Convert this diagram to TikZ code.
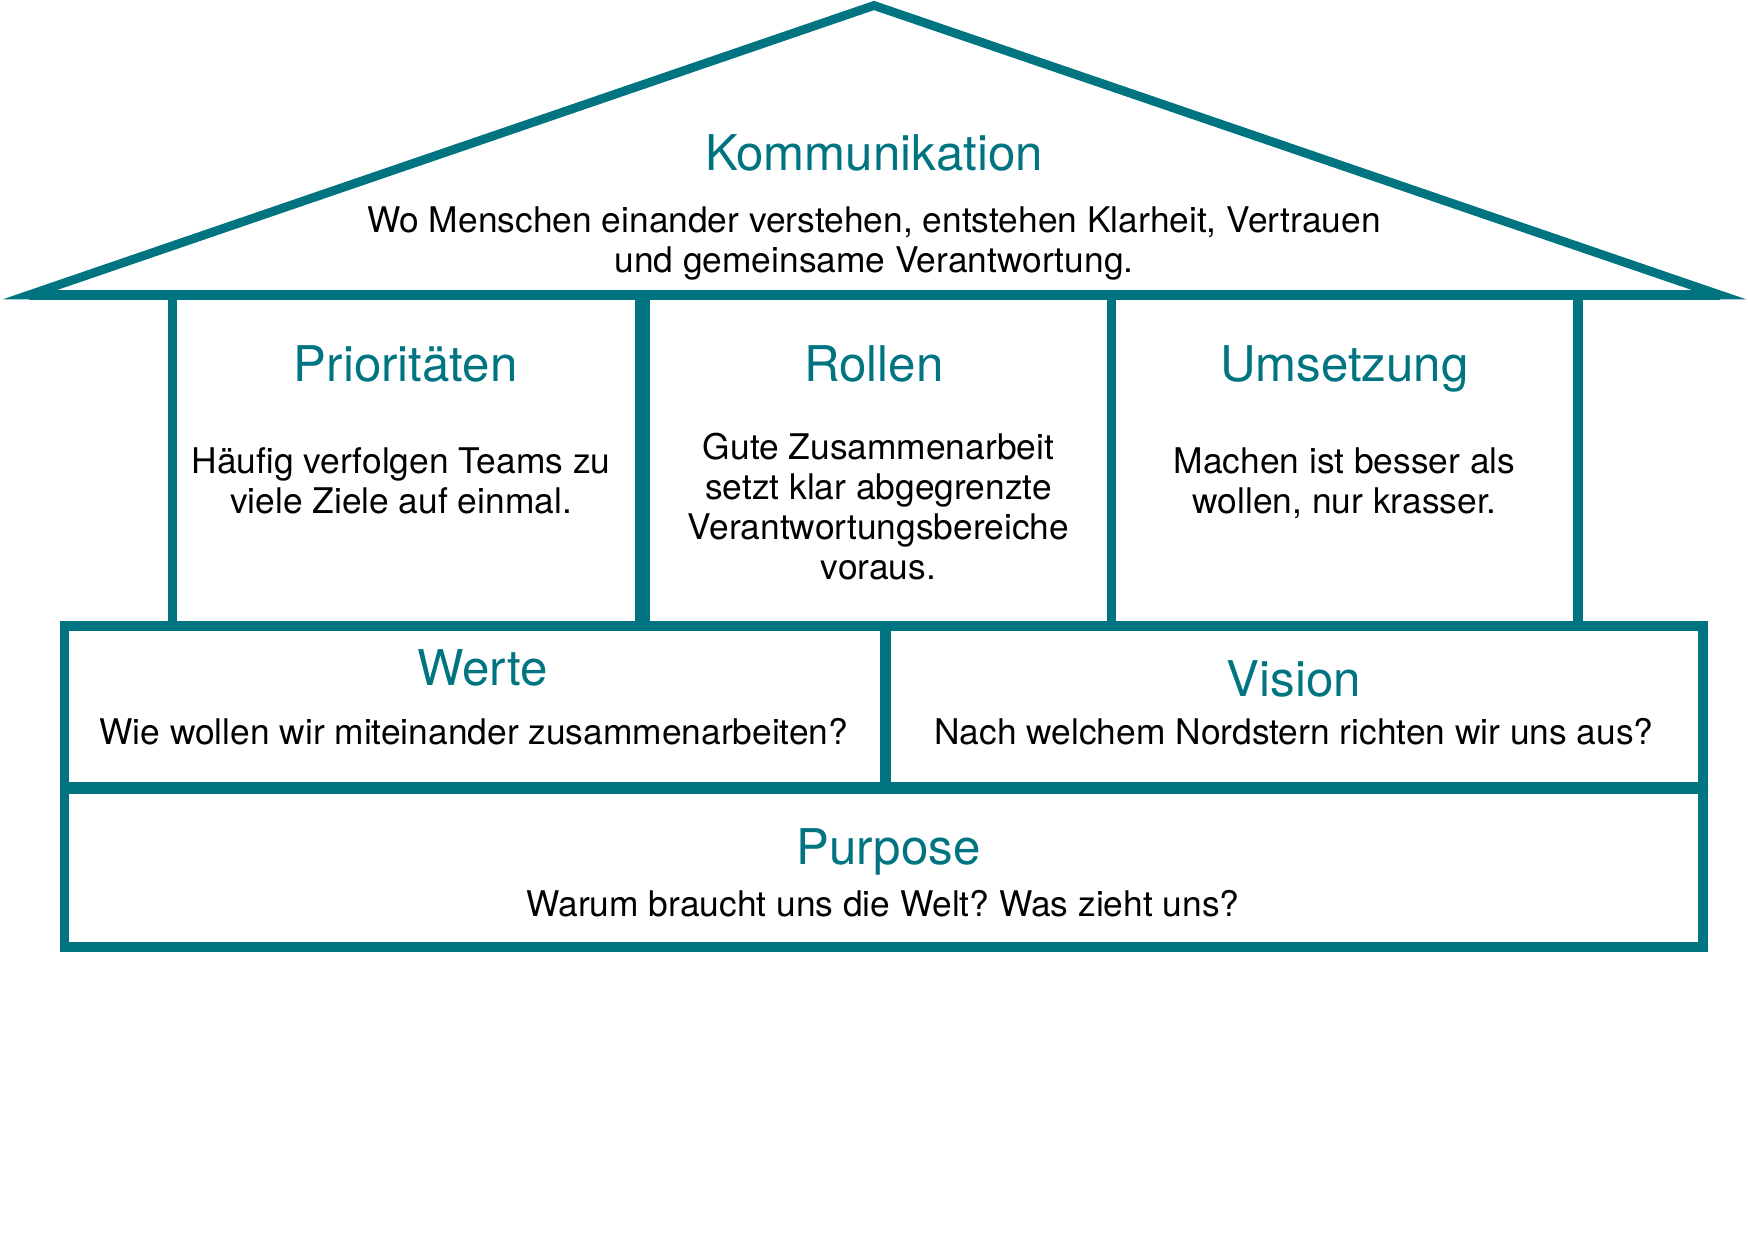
\documentclass[tikz,border=0pt]{standalone}
\usepackage{fontspec}
\setmainfont{TeX Gyre Heros}
\usepackage{tikz}
\definecolor{houseteal}{RGB}{0,116,128}
\frenchspacing

\begin{document}
\begin{tikzpicture}[
    x=0.01cm, y=-0.01cm,
    wall/.style={draw=houseteal, line width=0.095cm},
    title/.style={inner sep=0pt, anchor=base, text=houseteal, font=\fontsize{14}{16}\selectfont},
    body/.style={inner sep=0pt, anchor=base, align=center, font=\fontsize{10.05}{11.4}\selectfont}
    ]
    \useasboundingbox (0,0) rectangle (1748,1240);
    
    % roof
    \coordinate (eaveL) at (29,295);
    \coordinate (ridge) at (874,5.5);
    \coordinate (eaveR) at (1720,295);
    \draw[wall, line width=0.088cm, miter limit=10] (eaveL) -- (ridge) -- (eaveR) -- cycle;
    \draw[wall] (eaveL) -- (eaveR);
    
    % pillars
    \draw[wall] (172.7,295) -- (172.7,626);
    \draw[wall, line width=0.15cm] (642.5,295) -- (642.5,626);
    \draw[wall] (1111.4,295) -- (1111.4,626);
    \draw[wall] (1577.8,295) -- (1577.8,626);
    
    % foundation
    \draw[wall] (64.7,626) rectangle (1702.8,787);
    \draw[wall, line width=0.11cm] (885.5,626) -- (885.5,787);
    \draw[wall] (64.7,789) rectangle (1702.8,947);
    
    % base anchor = baseline of the last line
    \node[title] (komm) at (874,170.7) {Kommunikation};
    \node[body] (kommtext) at (874,272.7) {Wo Menschen einander verstehen, entstehen Klarheit, Vertrauen\\und gemeinsame Verantwortung.};
    
    
    \node[title] (prio) at (405.8,381.7) {Prioritäten};
    \node[body] (priotext) at (401,514) {Häufig verfolgen Teams zu\\viele Ziele auf einmal.};
    \node[title] (rollen) at (874,381.7) {Rollen};
    \node[body] (rollentext) at (878.5,580) {Gute Zusammenarbeit\\setzt klar abgegrenzte\\Verantwortungsbereiche\\voraus.};
    \node[title] (umsetzung) at (1344.5,381.7) {Umsetzung};
    \node[body] (umsetzungtext) at (1344.5,514) {Machen ist besser als\\wollen, nur krasser.};
    
    
    \node[title] (werte) at (482.7,686) {Werte};
    \node[body] (wertetext) at (473.8,745) {Wie wollen wir miteinander zusammenarbeiten?};
    \node[title] (vision) at (1294,696.7) {Vision};
    \node[body] (visiontext) at (1294,745) {Nach welchem Nordstern richten wir uns aus?};
    
    
    \node[title] (purpose) at (888.5,864) {Purpose};
    \node[body] (purposetext) at (883,916) {Warum braucht uns die Welt? Was zieht uns?};
    
\end{tikzpicture}
\end{document}
